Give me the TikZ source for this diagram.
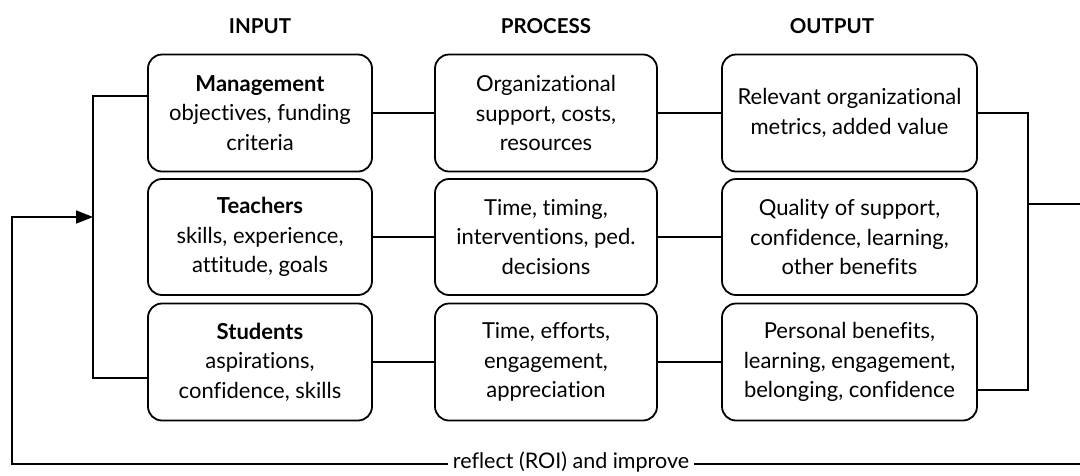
\documentclass[tikz,border=0pt]{standalone}
\usepackage{fontspec}
\setmainfont[Ligatures=NoCommon]{Lato}
\usetikzlibrary{arrows.meta,calc}
\begin{document}
\begin{tikzpicture}[x=1pt,y=-1pt,
  box/.style={draw,line width=1.8pt,rounded corners=14pt,align=center,
    inner sep=0pt,font=\fontsize{22}{29.5}\selectfont},
  hdr/.style={font=\bfseries\fontsize{20.5}{22}\selectfont},
  conn/.style={line width=1.7pt},
  lbl/.style={fill=white,inner xsep=5pt,inner ysep=0pt,font=\fontsize{21.5}{23}\selectfont}]
\useasboundingbox (0,0) rectangle (1080,475);
% headers
\node[hdr] (hin) at (260,26) {INPUT};
\node[hdr] (hpr) at (546,26) {PROCESS};
\node[hdr] (hout) at (832,26) {OUTPUT};
% boxes
\node[box,minimum width=224pt,minimum height=117pt] (m1) at (260,113) {\textbf{Management}\\objectives, funding\\criteria};
\node[box,minimum width=224pt,minimum height=116pt] (m2) at (260,237) {\textbf{Teachers}\\skills, experience,\\attitude, goals};
\node[box,minimum width=224pt,minimum height=117pt] (m3) at (260,362) {\textbf{Students}\\aspirations,\\confidence, skills};
\node[box,minimum width=222pt,minimum height=117pt] (p1) at (546,113) {Organizational\\support, costs,\\resources};
\node[box,minimum width=222pt,minimum height=116pt] (p2) at (546,237) {Time, timing,\\interventions, ped.\\decisions};
\node[box,minimum width=222pt,minimum height=117pt] (p3) at (546,362) {Time, efforts,\\engagement,\\appreciation};
\node[box,minimum width=255pt,minimum height=117pt] (o1) at (849.5,113) {Relevant organizational\\metrics, added value};
\node[box,minimum width=255pt,minimum height=116pt] (o2) at (849.5,237) {Quality of support,\\confidence, learning,\\other benefits};
\node[box,minimum width=255pt,minimum height=117pt] (o3) at (849.5,362) {Personal benefits,\\learning, engagement,\\belonging, confidence};
% row connectors
\draw[conn] (m1) -- (p1) (p1) -- (o1);
\draw[conn] (m2) -- (p2) (p2) -- (o2);
\draw[conn] (m3) -- (p3) (p3) -- (o3);
% left bracket
\coordinate (lt) at ($(m1.west)+(0,-17)$);
\coordinate (lb) at ($(m3.west)+(0,16)$);
\coordinate (lj) at (93,217);
\draw[conn] (lt) -- (93,96) -- (93,378) -- (lb);
% right bracket
\coordinate (rb) at ($(o3.east)+(0,28)$);
\coordinate (rj) at (1028,204);
\coordinate (rout) at (1080,204);
\draw[conn] (o1.east) -- (1028,113) -- (1028,390) -- (rb);
\draw[conn] (rj) -- (rout);
% feedback loop
\coordinate (fbr) at (1080,464);
\coordinate (fbl) at (12,464);
\draw[conn,-{Triangle[length=17pt,width=13pt]}] (fbr) -- (fbl) -- (12,217) -- (lj);
\node[lbl] (fl) at (571,462) {reflect (ROI) and improve};
\end{tikzpicture}
\end{document}
